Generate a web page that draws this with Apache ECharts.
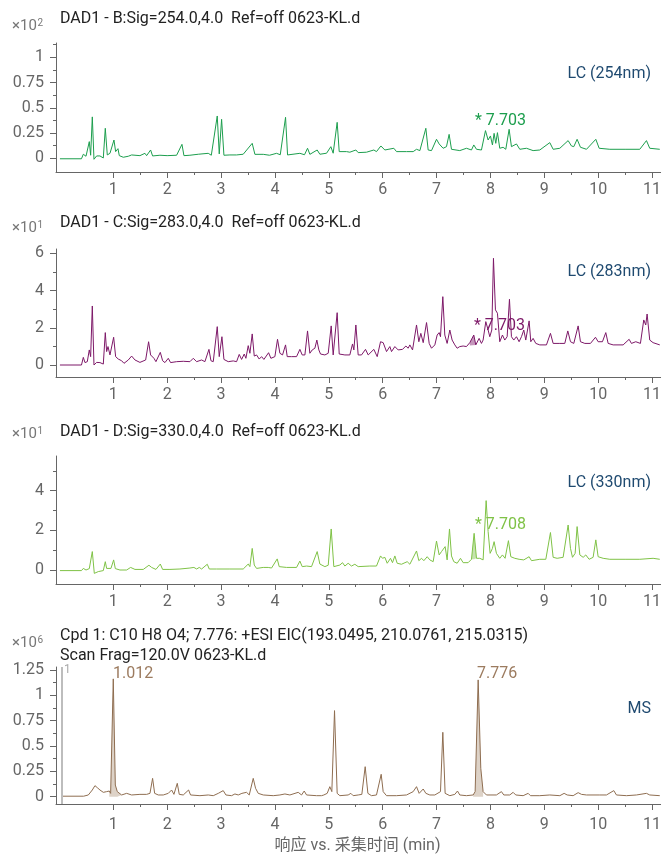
<!DOCTYPE html>
<html><head><meta charset="utf-8">
<script src="https://cdn.jsdelivr.net/npm/echarts@6/dist/echarts.min.js"></script>
<style>html,body{margin:0;padding:0;background:#fff}#c{width:664px;height:856px}</style>
</head><body><div id="c"></div><script>
// ---------- DATA ----------
const xTickLabels = [1,2,3,4,5,6,7,8,9,10,11];
const xMinorTicks = [1.5,2.5,3.5,4.5,5.5,6.5,7.5,8.5,9.5,10.5];

const yLabels254 = [0,0.25,0.5,0.75,1];
const yMinor254 = [0.125,0.375,0.625,0.875,1.125];
const yLabels283 = [0,2,4,6];
const yMinor283 = [1,3,5];
const yLabels330 = [0,2,4];
const yMinor330 = [1,3,5];
const yLabelsMS = [0,0.25,0.5,0.75,1,1.25];
const yMinorMS = [0.125,0.375,0.625,0.875,1.125];

const trace254 = [[0.01,-0.005],[0.41,-0.005],[0.444,0.04],[0.494,0.02],[0.555,0.165],[0.58,0.03],[0.611,0.41],[0.642,-0.01],[0.691,0.023],[0.753,0.023],[0.815,0.003],[0.852,0.297],[0.889,0.033],[0.939,0.049],[1.013,0.181],[1.044,0.066],[1.087,0.095],[1.112,0.026],[1.186,0.01],[1.279,0.02],[1.341,0.033],[1.495,0.026],[1.588,0.049],[1.619,0.026],[1.693,0.082],[1.730,0.023],[1.866,0.03],[2.0,0.026],[2.176,0.03],[2.275,0.138],[2.312,0.026],[2.423,0.03],[2.578,0.04],[2.609,0.026],[2.763,0.049],[2.82,0.03],[2.930,0.419],[2.967,0.043],[3.011,0.386],[3.054,0.03],[3.165,0.033],[3.289,0.033],[3.412,0.04],[3.579,0.148],[3.629,0.039],[3.784,0.039],[3.90,0.03],[4.031,0.049],[4.10,0.035],[4.198,0.406],[4.235,0.033],[4.464,0.049],[4.55,0.035],[4.606,0.099],[4.649,0.039],[4.785,0.082],[4.835,0.04],[4.959,0.05],[5.039,0.115],[5.082,0.05],[5.156,0.356],[5.194,0.066],[5.33,0.066],[5.391,0.06],[5.503,0.082],[5.546,0.056],[5.70,0.06],[5.837,0.082],[5.886,0.066],[5.967,0.122],[6.041,0.082],[6.208,0.099],[6.258,0.066],[6.443,0.066],[6.567,0.066],[6.629,0.089],[6.691,0.076],[6.802,0.297],[6.845,0.082],[6.907,0.076],[7.0,0.188],[7.049,0.142],[7.123,0.099],[7.185,0.115],[7.234,0.237],[7.278,0.089],[7.432,0.076],[7.556,0.099],[7.649,0.082],[7.692,0.132],[7.742,0.089],[7.834,0.082],[7.909,0.274],[7.958,0.181],[8.001,0.221],[8.038,0.132],[8.069,0.247],[8.10,0.148],[8.131,0.254],[8.174,0.099],[8.236,0.109],[8.286,0.089],[8.348,0.287],[8.391,0.115],[8.484,0.142],[8.546,0.089],[8.670,0.099],[8.793,0.076],[8.917,0.082],[9.103,0.155],[9.165,0.089],[9.289,0.099],[9.443,0.175],[9.505,0.122],[9.548,0.115],[9.610,0.188],[9.672,0.109],[9.784,0.089],[9.957,0.188],[10.019,0.099],[10.217,0.089],[10.5,0.089],[10.773,0.089],[10.897,0.175],[10.958,0.099],[11.144,0.089]];

const trace283 = [[0.01,0],[0.41,0],[0.444,0.41],[0.475,0.13],[0.518,0.18],[0.555,0.81],[0.580,0.45],[0.611,3.17],[0.642,0],[0.691,0.14],[0.753,0.13],[0.815,0.05],[0.852,1.74],[0.877,0.72],[0.902,0.99],[0.939,0.54],[0.976,0.63],[1.007,1.49],[1.044,0.45],[1.093,0.32],[1.155,0.23],[1.199,0.09],[1.279,0.27],[1.341,0.48],[1.403,0.27],[1.495,0.14],[1.601,0.27],[1.656,1.25],[1.693,0.54],[1.755,0.36],[1.792,0.18],[1.873,0.68],[1.916,0.23],[1.959,0.13],[2.021,0.36],[2.064,0.13],[2.176,0.18],[2.30,0.2],[2.423,0.18],[2.485,0.36],[2.547,0.18],[2.640,0.27],[2.701,0.18],[2.776,0.84],[2.813,0.23],[2.856,0.18],[2.930,2.06],[2.967,0.45],[3.017,1.52],[3.054,0.30],[3.134,0.18],[3.227,0.22],[3.289,0.18],[3.338,0.57],[3.382,0.30],[3.431,0.59],[3.462,0.36],[3.505,1.04],[3.536,0.63],[3.579,1.67],[3.617,0.48],[3.660,0.54],[3.709,0.32],[3.753,0.45],[3.796,0.30],[3.883,0.66],[3.926,0.36],[4.0,0.45],[4.049,1.38],[4.093,0.63],[4.142,0.54],[4.198,1.08],[4.229,0.45],[4.309,0.45],[4.402,0.45],[4.464,0.84],[4.507,0.54],[4.557,0.54],[4.606,1.83],[4.649,0.63],[4.693,0.81],[4.742,0.90],[4.779,1.34],[4.816,0.81],[4.847,0.59],[4.928,0.54],[4.990,0.63],[5.045,2.10],[5.082,0.54],[5.119,0.63],[5.156,2.81],[5.194,0.59],[5.299,0.54],[5.391,0.54],[5.441,1.13],[5.466,0.81],[5.503,2.15],[5.546,0.54],[5.608,0.54],[5.682,0.84],[5.732,0.54],[5.837,0.84],[5.899,0.45],[5.961,1.25],[6.010,1.20],[6.072,0.72],[6.134,0.99],[6.165,0.72],[6.227,0.99],[6.288,0.81],[6.369,0.84],[6.431,1.02],[6.474,0.90],[6.505,1.08],[6.555,0.81],[6.629,2.15],[6.672,1.25],[6.709,1.70],[6.753,1.20],[6.815,2.28],[6.864,1.16],[6.907,0.90],[6.969,1.08],[7.012,1.61],[7.049,1.74],[7.074,1.52],[7.117,3.67],[7.154,1.61],[7.197,1.16],[7.247,1.88],[7.290,1.34],[7.340,1.08],[7.383,0.90],[7.432,0.99],[7.494,1.02],[7.556,0.99],[7.618,1.20],[7.692,1.61],[7.729,1.08],[7.791,1.43],[7.834,1.16],[7.865,1.34],[7.915,2.33],[7.958,1.88],[7.989,1.52],[8.026,1.88],[8.057,5.73],[8.094,2.96],[8.131,2.78],[8.174,1.25],[8.224,1.61],[8.267,1.34],[8.311,1.52],[8.354,3.53],[8.391,1.52],[8.434,1.34],[8.484,1.52],[8.533,1.25],[8.577,1.52],[8.620,1.88],[8.657,1.34],[8.719,2.37],[8.750,1.25],[8.793,1.43],[8.843,1.16],[8.917,1.08],[9.041,1.08],[9.115,1.70],[9.165,1.16],[9.289,1.16],[9.381,1.16],[9.437,1.83],[9.487,1.25],[9.548,1.16],[9.629,2.10],[9.672,1.25],[9.753,1.16],[9.858,1.16],[9.951,1.49],[10.0,1.25],[10.080,1.25],[10.142,1.74],[10.186,1.16],[10.279,1.08],[10.464,1.08],[10.575,1.38],[10.618,1.16],[10.699,1.25],[10.785,1.16],[10.847,2.42],[10.884,2.15],[10.909,2.74],[10.958,1.34],[11.020,1.20],[11.144,1.08]];

const trace330 = [[0.01,-0.03],[0.41,-0.03],[0.444,0.08],[0.494,0.0],[0.555,0.07],[0.611,0.93],[0.648,-0.17],[0.722,-0.08],[0.815,-0.03],[0.852,0.42],[0.877,0.08],[0.908,0.17],[0.957,0.08],[1.007,0.51],[1.038,0.07],[1.124,0.0],[1.248,0.0],[1.322,0.13],[1.403,0.03],[1.557,0.03],[1.662,0.24],[1.712,0.13],[1.792,0.03],[1.873,0.30],[1.916,0.03],[2.052,0.03],[2.238,0.05],[2.423,0.10],[2.497,0.13],[2.547,0.05],[2.596,0.13],[2.640,0.05],[2.745,0.29],[2.782,0.05],[2.918,0.05],[3.165,0.05],[3.412,0.05],[3.505,0.30],[3.536,0.17],[3.579,1.09],[3.617,0.25],[3.660,0.08],[3.784,0.13],[3.876,0.13],[3.938,0.10],[4.043,0.56],[4.080,0.17],[4.216,0.13],[4.402,0.13],[4.464,0.45],[4.507,0.17],[4.588,0.20],[4.680,0.17],[4.785,0.93],[4.835,0.30],[4.928,0.17],[4.990,0.24],[5.045,2.07],[5.094,0.17],[5.206,0.25],[5.255,0.37],[5.299,0.20],[5.360,0.34],[5.422,0.20],[5.484,0.29],[5.546,0.17],[5.763,0.20],[5.886,0.20],[5.961,0.71],[5.998,0.59],[6.041,0.64],[6.085,0.34],[6.146,0.59],[6.183,0.37],[6.227,0.71],[6.270,0.34],[6.350,0.29],[6.456,0.42],[6.505,0.29],[6.629,0.96],[6.672,0.47],[6.722,0.59],[6.765,0.47],[6.827,0.67],[6.876,0.51],[6.938,0.42],[7.0,1.46],[7.049,0.76],[7.093,0.93],[7.123,1.01],[7.160,1.18],[7.197,0.51],[7.241,2.07],[7.278,0.71],[7.321,0.42],[7.383,0.34],[7.445,0.59],[7.494,0.37],[7.587,0.37],[7.649,0.54],[7.698,1.85],[7.742,0.59],[7.804,0.59],[7.865,0.51],[7.921,3.50],[7.958,1.94],[7.995,0.84],[8.038,1.09],[8.069,1.43],[8.112,0.84],[8.174,0.59],[8.224,0.76],[8.273,0.59],[8.335,1.48],[8.379,0.67],[8.453,0.59],[8.533,0.54],[8.620,0.51],[8.719,0.67],[8.763,0.47],[8.917,0.54],[9.029,0.54],[9.115,1.89],[9.165,0.64],[9.239,0.59],[9.350,0.64],[9.443,2.27],[9.487,1.09],[9.524,0.64],[9.573,0.84],[9.610,2.19],[9.660,0.76],[9.722,0.64],[9.771,0.76],[9.833,0.54],[9.907,0.64],[9.957,1.52],[10.0,0.67],[10.093,0.59],[10.217,0.54],[10.5,0.54],[10.773,0.54],[11.020,0.59],[11.144,0.54]];

const traceMS = [[0.04,0.005],[0.45,0.005],[0.537,0.017],[0.611,0.066],[0.660,0.109],[0.704,0.089],[0.753,0.066],[0.815,0.043],[0.877,0.05],[0.926,0.056],[0.951,0.033],[1.0,1.162],[1.038,0.115],[1.075,0.05],[1.155,0.017],[1.248,0.033],[1.341,0.017],[1.495,0.023],[1.619,0.023],[1.681,0.033],[1.730,0.181],[1.768,0.033],[1.835,0.017],[1.928,0.017],[2.021,0.033],[2.083,0.066],[2.126,0.023],[2.188,0.132],[2.225,0.023],[2.299,0.017],[2.398,0.066],[2.435,0.017],[2.609,0.01],[2.763,0.017],[2.856,0.01],[2.949,0.033],[3.041,0.06],[3.091,0.017],[3.196,0.01],[3.258,0.027],[3.320,0.017],[3.388,0.033],[3.474,0.043],[3.524,0.017],[3.598,0.181],[3.641,0.083],[3.691,0.033],[3.784,0.017],[3.969,0.01],[4.093,0.017],[4.186,0.027],[4.278,0.017],[4.433,0.043],[4.495,0.017],[4.544,0.056],[4.588,0.017],[4.773,0.01],[4.866,0.01],[4.909,0.017],[4.971,0.033],[5.020,0.099],[5.057,0.05],[5.107,0.849],[5.156,0.033],[5.206,0.01],[5.360,0.017],[5.410,0.033],[5.453,0.01],[5.546,0.017],[5.614,0.023],[5.676,0.296],[5.726,0.033],[5.793,0.01],[5.886,0.017],[5.973,0.221],[6.010,0.05],[6.072,0.01],[6.258,0.01],[6.443,0.017],[6.567,0.05],[6.629,0.099],[6.678,0.033],[6.709,0.023],[6.753,0.076],[6.802,0.033],[6.876,0.017],[6.969,0.017],[7.074,0.05],[7.117,0.635],[7.160,0.033],[7.247,0.01],[7.340,0.023],[7.389,0.056],[7.432,0.017],[7.556,0.01],[7.680,0.017],[7.717,0.05],[7.773,1.152],[7.822,0.28],[7.865,0.05],[7.927,0.017],[8.112,0.017],[8.205,0.05],[8.249,0.017],[8.360,0.017],[8.422,0.043],[8.471,0.017],[8.608,0.01],[8.701,0.033],[8.744,0.01],[8.917,0.01],[9.103,0.017],[9.289,0.01],[9.369,0.033],[9.425,0.017],[9.536,0.01],[9.629,0.04],[9.691,0.023],[9.784,0.017],[10.031,0.017],[10.155,0.017],[10.291,0.06],[10.340,0.017],[10.526,0.01],[10.711,0.017],[10.897,0.033],[10.958,0.017],[11.144,0.01]];

// peak integration regions (start, end, baseline)
const fill254 = [[7.65, 7.74, 0.082]];
const fill283 = [[7.60, 7.73, 1.05]];
const fill330 = [[7.649, 7.742, 0.54]];
const fillMS = [[0.926, 1.16, 0], [7.68, 7.87, 0]];
const msMarkerTime = 0.043;

// ---------- LAYOUT / STYLE ----------
const FONT = "Roboto, 'Noto Sans CJK SC', sans-serif";
const AX = '#666';
const FS = 16;
const xMin = -0.063, xMax = 11.16;
const panels = [
  {data: trace254, top: 43, height: 129, min: -0.136, max: 1.142, lab: yLabels254, minor: yMinor254, color: '#1c9e4d', fill: fill254, fillColor: 'rgba(28,158,77,0.35)', xm: 10},
  {data: trace283, top: 249, height: 128, min: -0.644, max: 6.23, lab: yLabels283, minor: yMinor283, color: '#7d1868', fill: fill283, fillColor: 'rgba(125,24,104,0.45)', xm: 10},
  {data: trace330, top: 456, height: 128, min: -0.706, max: 5.75, lab: yLabels330, minor: yMinor330, color: '#7fc246', fill: fill330, fillColor: 'rgba(127,194,70,0.45)', xm: 10},
  {data: traceMS, top: 667, height: 137, min: -0.072, max: 1.279, lab: yLabelsMS, minor: yMinorMS, color: '#8e6d50', fill: fillMS, fillColor: '#ddd2c7', xm: 13}
];

const grid = [], xAxis = [], yAxis = [], series = [];
panels.forEach((p, i) => {
  grid.push({left: 56, right: 3, top: p.top, height: p.height});
  const lab = {color: AX, fontSize: FS, fontFamily: FONT};
  xAxis.push({type: 'value', gridIndex: i, min: xMin, max: xMax, position: 'bottom',
    axisLine: {show: true, onZero: false, lineStyle: {color: AX}},
    axisTick: {show: true, length: 6, customValues: xTickLabels, lineStyle: {color: AX}},
    axisLabel: Object.assign({show: true, customValues: xTickLabels, margin: p.xm}, lab),
    splitLine: {show: false}});
  xAxis.push({type: 'value', gridIndex: i, min: xMin, max: xMax, position: 'bottom',
    axisLine: {show: false, onZero: false},
    axisTick: {show: true, length: 3, customValues: xMinorTicks, lineStyle: {color: AX}},
    axisLabel: {show: false}, splitLine: {show: false}});
  yAxis.push({type: 'value', gridIndex: i, min: p.min, max: p.max, position: 'left',
    axisLine: {show: true, onZero: false, lineStyle: {color: AX}},
    axisTick: {show: true, length: 6, customValues: p.lab, lineStyle: {color: AX}},
    axisLabel: Object.assign({show: true, customValues: p.lab, margin: 12}, lab),
    splitLine: {show: false}});
  yAxis.push({type: 'value', gridIndex: i, min: p.min, max: p.max, position: 'left',
    axisLine: {show: false, onZero: false},
    axisTick: {show: true, length: 3, customValues: p.minor, lineStyle: {color: AX}},
    axisLabel: {show: false}, splitLine: {show: false}});
  p.fill.forEach(f => {
    const sub = p.data.filter(d => d[0] >= f[0] - 1e-9 && d[0] <= f[1] + 1e-9);
    series.push({type: 'line', xAxisIndex: 2 * i, yAxisIndex: 2 * i, data: sub, showSymbol: false,
      silent: true, lineStyle: {width: 0}, areaStyle: {color: p.fillColor, origin: f[2], opacity: 1}, z: 1});
  });
  const s = {type: 'line', xAxisIndex: 2 * i, yAxisIndex: 2 * i, data: p.data, showSymbol: false,
    lineStyle: {width: 1, color: p.color}, itemStyle: {color: p.color}, z: 3};
  if (i === 3) {
    s.markLine = {symbol: 'none', silent: true, label: {show: false}, animation: false,
      lineStyle: {color: '#bdbdbd', width: 2, type: 'solid'}, data: [{xAxis: msMarkerTime}]};
  }
  series.push(s);
});

function txt(x, y, text, opt) {
  return {type: 'text', x: x, y: y, silent: true,
    style: Object.assign({text: text, fontFamily: FONT, fontSize: FS, fill: '#222', verticalAlign: 'middle', align: 'left'}, opt || {})};
}
const blue = '#1f4a70';
const GR = '#777';
const graphic = [
  txt(60, 18.5, 'DAD1 - B:Sig=254.0,4.0  Ref=off 0623-KL.d'),
  txt(12, 26, '×10', {fill: GR, fontSize: 15}), txt(37.5, 23, '2', {fill: GR, fontSize: 10}),
  txt(651, 74, 'LC (254nm)', {fill: blue, align: 'right'}),
  txt(475, 121, '* 7.703', {fill: '#1c9e4d'}),

  txt(60, 223, 'DAD1 - C:Sig=283.0,4.0  Ref=off 0623-KL.d'),
  txt(12, 228, '×10', {fill: GR, fontSize: 15}), txt(37.5, 225, '1', {fill: GR, fontSize: 10}),
  txt(651, 272, 'LC (283nm)', {fill: blue, align: 'right'}),
  txt(474, 326, '* 7.703', {fill: '#7d1868'}),

  txt(60, 432, 'DAD1 - D:Sig=330.0,4.0  Ref=off 0623-KL.d'),
  txt(12, 434, '×10', {fill: GR, fontSize: 15}), txt(37.5, 431, '1', {fill: GR, fontSize: 10}),
  txt(651, 483, 'LC (330nm)', {fill: blue, align: 'right'}),
  txt(475, 525, '* 7.708', {fill: '#7fc246'}),

  txt(60, 635.5, 'Cpd 1: C10 H8 O4; 7.776: +ESI EIC(193.0495, 210.0761, 215.0315)'),
  txt(60, 655.5, 'Scan Frag=120.0V 0623-KL.d'),
  txt(12, 643, '×10', {fill: GR, fontSize: 15}), txt(37.5, 640, '6', {fill: GR, fontSize: 10}),
  txt(651, 709, 'MS', {fill: blue, align: 'right'}),
  txt(113, 674, '1.012', {fill: '#9c7b5f'}),
  txt(477, 674, '7.776', {fill: '#9c7b5f'}),
  txt(64, 670, '1', {fill: '#aaa', fontSize: 12}),

  txt(357.5, 846, '响应 vs. 采集时间 (min)', {fill: AX, align: 'center'})
];

const chart = echarts.init(document.getElementById('c'), null, {renderer: 'canvas'});
chart.setOption({animation: false, grid, xAxis, yAxis, series, graphic});
</script></body></html>
